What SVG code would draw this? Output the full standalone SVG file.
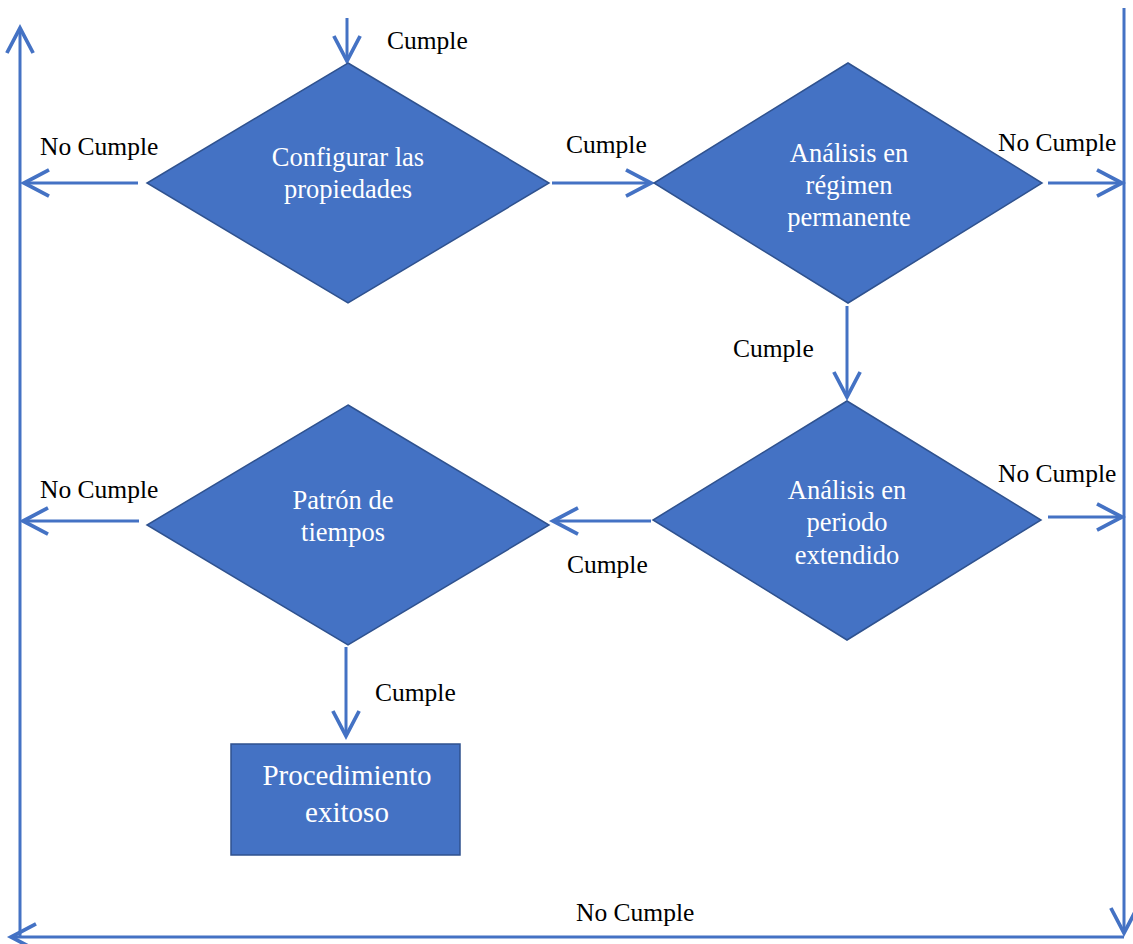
<svg xmlns="http://www.w3.org/2000/svg" width="1133" height="944" viewBox="0 0 1133 944">
<style>
.node{fill:#4472C4;stroke:#2F528F;stroke-width:1.5}
.nt{fill:#ffffff;text-anchor:middle}
.c{fill:none;stroke:#4472C4;stroke-width:3}
</style>
<defs>
<marker id="ah" markerUnits="userSpaceOnUse" markerWidth="30" markerHeight="30" viewBox="0 0 24 24" refX="22" refY="12" orient="auto" overflow="visible">
<path d="M2,1.5 L22,12 L2,22.5" fill="none" stroke="#4472C4" stroke-width="3"/>
</marker>
</defs>
<rect width="1133" height="944" fill="#ffffff"/>
<g id="connectors">
<line class="c" x1="347" y1="18" x2="347" y2="61" marker-end="url(#ah)"/>
<line class="c" x1="138" y1="183" x2="24" y2="183" marker-end="url(#ah)"/>
<line class="c" x1="552" y1="183" x2="651" y2="183" marker-end="url(#ah)"/>
<line class="c" x1="1048" y1="183" x2="1122" y2="183" marker-end="url(#ah)"/>
<line class="c" x1="847" y1="306" x2="847" y2="397" marker-end="url(#ah)"/>
<line class="c" x1="1048" y1="517" x2="1122" y2="517" marker-end="url(#ah)"/>
<line class="c" x1="651" y1="521" x2="553" y2="521" marker-end="url(#ah)"/>
<line class="c" x1="139" y1="521" x2="23" y2="521" marker-end="url(#ah)"/>
<line class="c" x1="346" y1="647" x2="346" y2="736" marker-end="url(#ah)"/>
<line class="c" x1="1124" y1="8" x2="1124" y2="933" marker-end="url(#ah)"/>
<line class="c" x1="1124" y1="937" x2="11" y2="937" marker-end="url(#ah)"/>
<line class="c" x1="20" y1="937" x2="20" y2="28" marker-end="url(#ah)"/>
<g font-family="'Liberation Serif','Times New Roman','DejaVu Serif',serif" font-size="25.5" fill="#000000">
<text x="387" y="49">Cumple</text>
<text x="40" y="155">No Cumple</text>
<text x="566" y="153">Cumple</text>
<text x="998" y="151">No Cumple</text>
<text x="733" y="357">Cumple</text>
<text x="998" y="482">No Cumple</text>
<text x="40" y="498">No Cumple</text>
<text x="567" y="573">Cumple</text>
<text x="375" y="701">Cumple</text>
<text x="576" y="921">No Cumple</text>
</g>
</g>
<g font-family="'Liberation Serif','Times New Roman','DejaVu Serif',serif" font-size="26.5">
<g id="n1">
<polygon class="node" points="348,63 549,183 348,303 147,183"/>
<text class="nt" x="348" y="166">Configurar las</text>
<text class="nt" x="348" y="198">propiedades</text>
</g>
<g id="n2">
<polygon class="node" points="848,63 1042,183 848,303 654,183"/>
<text class="nt" x="849" y="162">Análisis en</text>
<text class="nt" x="849" y="194">régimen</text>
<text class="nt" x="849" y="226">permanente</text>
</g>
<g id="n3">
<polygon class="node" points="847,401 1041,520 847,640 653,520"/>
<text class="nt" x="847" y="499">Análisis en</text>
<text class="nt" x="847" y="531">periodo</text>
<text class="nt" x="847" y="564">extendido</text>
</g>
<g id="n4">
<polygon class="node" points="348,405 549,525 348,645 147,525"/>
<text class="nt" x="343" y="509">Patrón de</text>
<text class="nt" x="343" y="541">tiempos</text>
</g>
<g id="n5">
<rect class="node" x="231" y="744" width="229" height="111"/>
<text class="nt" x="347" y="785" font-size="29">Procedimiento</text>
<text class="nt" x="347" y="822" font-size="29">exitoso</text>
</g>
</g>
</svg>
